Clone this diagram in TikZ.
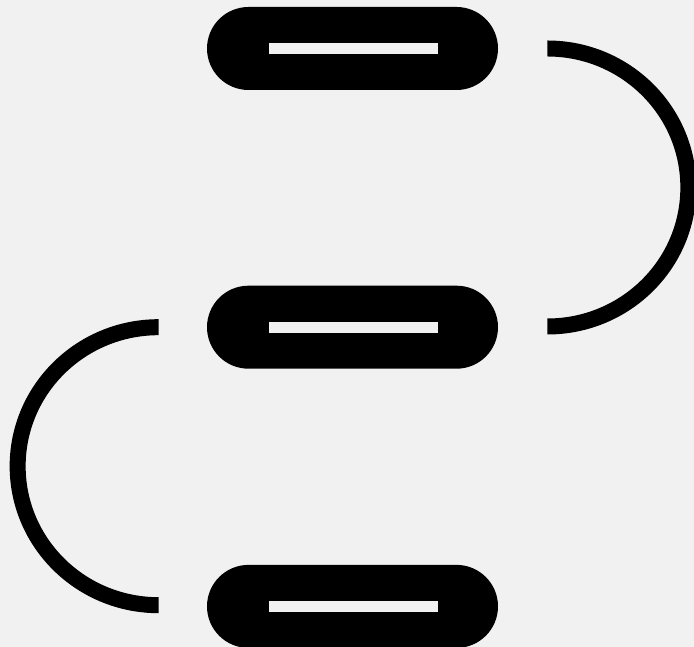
\documentclass[tikz,border=0pt]{standalone}
\usetikzlibrary{positioning, shapes.misc}
\definecolor{paper}{HTML}{F1F1F1}

\tikzset{
    pill/.style={rounded rectangle, fill=black, minimum width=5.82cm, minimum height=1.66cm, inner sep=0pt},
    slot/.style={rectangle, fill=paper, minimum width=3.38cm, minimum height=0.22cm, inner sep=0pt},
    link/.style={line width=0.32cm, line cap=butt}
}

\begin{document}
\begin{tikzpicture}
    % ---------------- BACKGROUND ----------------
    \fill[paper] (0,0) rectangle (13.88,12.94);
    \useasboundingbox (0,0) rectangle (13.88,12.94);

    % ---------------- PILLS ----------------
    \node[pill] (top) at (7.05,11.97) {};
    \node[pill, below=3.9cm of top] (mid) {};
    \node[pill, below=3.91cm of mid] (bot) {};

    % Slots
    \node[slot] (topslot) at ([xshift=0.02cm]top.center) {};
    \node[slot] (midslot) at ([xshift=0.02cm]mid.center) {};
    \node[slot] (botslot) at ([xshift=0.02cm]bot.center) {};

    % ---------------- LINKS ----------------
    \coordinate (rstart) at ([xshift=0.98cm]top.east);
    \coordinate (lstart) at ([xshift=-0.96cm]mid.west);
    \draw[link] (rstart) arc[start angle=90, end angle=-90, x radius=2.82cm, y radius=2.78cm];
    \draw[link] (lstart) arc[start angle=90, end angle=270, x radius=2.82cm, y radius=2.78cm];
\end{tikzpicture}
\end{document}
